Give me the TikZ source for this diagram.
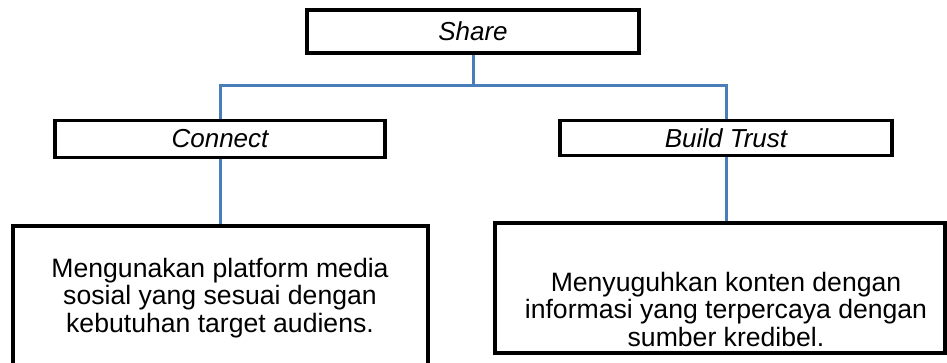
\documentclass[tikz,border=0pt]{standalone}
\usepackage{fontspec}
\setmainfont{Liberation Sans}
\usetikzlibrary{positioning}
\definecolor{linkblue}{RGB}{74,126,187}
\tikzset{head/.style={draw,line width=3.5pt,minimum width=330pt,minimum height=37pt,inner sep=0pt,font=\fontsize{26}{28}\selectfont\itshape},
body/.style={draw,line width=3.5pt,inner sep=0pt},txt/.style={align=center,font=\fontsize{26.6}{27.5}\selectfont},
link/.style={draw=linkblue,line width=3pt}}
\begin{document}
\begin{tikzpicture}[x=1pt,y=1pt]
\useasboundingbox(0,0)rectangle(947,362);\clip(0,0)rectangle(947,362);
\node[head,minimum width=332pt,minimum height=43pt](share)at(473,330.5){Share};
\node[head](connect)at(220,223){Connect};\node[head,minimum width=332pt,minimum height=35pt](trust)at(726,224){Build Trust};
\node[body,minimum width=415pt,minimum height=144pt](connbox)at(220.5,64){};
\node[body,minimum width=450pt,minimum height=130pt](trustbox)at(720,74){};
\node[txt](conntxt)at(220,64){Mengunakan platform media\\sosial yang sesuai dengan\\kebutuhan target audiens.};
\node[txt](trusttxt)at(726,53){Menyuguhkan konten dengan\\informasi yang terpercaya dengan\\sumber kredibel.};
\coordinate(fork)at(473,276);
\draw[link](share)--(fork);
\foreach\b in{connect,trust}\draw[link](fork)-|(\b);
\foreach\a/\b in{connect/connbox,trust/trustbox}\draw[link](\a.south)--(\a.south|-\b.north);
\end{tikzpicture}
\end{document}
